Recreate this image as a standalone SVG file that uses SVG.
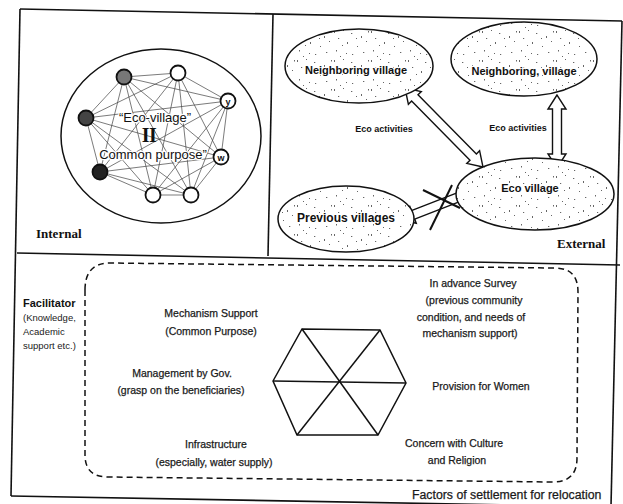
<svg xmlns="http://www.w3.org/2000/svg" width="623" height="504" viewBox="0 0 623 504">
<defs>
<pattern id="speck" width="37" height="29" patternUnits="userSpaceOnUse">
<rect width="37" height="29" fill="#fff"/>
<g fill="#666">
<rect x="1" y="2" width="1" height="2"/><rect x="5" y="9" width="1.2" height="1"/><rect x="10" y="1" width="1" height="1"/>
<rect x="14" y="13" width="1" height="2"/><rect x="18" y="4" width="1.3" height="1"/><rect x="24" y="17" width="1" height="1"/>
<rect x="3" y="21" width="1" height="1.5"/><rect x="9" y="16" width="1" height="1"/><rect x="19" y="25" width="1.2" height="1"/>
<rect x="28" y="7" width="1" height="2"/><rect x="33" y="12" width="1" height="1"/><rect x="7" y="27" width="1" height="1"/>
<rect x="30" y="23" width="1.3" height="1"/><rect x="23" y="9" width="1" height="1"/><rect x="35" y="2" width="1" height="1.5"/>
<rect x="13" y="24" width="1" height="1"/>
</g>
</pattern>
</defs>
<style>
.frame{fill:none;stroke:#111;stroke-width:1.6}
.edge{stroke:#222;stroke-width:0.7;opacity:0.85}
.node{stroke:#111;stroke-width:1.8}
.ell{fill:url(#speck);stroke:#111;stroke-width:1.5}
.arrow{fill:#fff;stroke:#111;stroke-width:1.4;stroke-linejoin:miter}
.ser{font-family:"Liberation Serif",serif;font-weight:bold;fill:#111}
.lbl{font-family:"Liberation Sans",Arial,sans-serif;font-weight:bold;fill:#111}
.txt{font-family:"Liberation Sans",Arial,sans-serif;font-size:10.5px;fill:#1a1a1a;stroke:#1a1a1a;stroke-width:0.25;text-anchor:middle}
.halo{paint-order:stroke;stroke:#fff;stroke-width:2.5px;stroke-linejoin:round}
</style>
<rect width="623" height="504" fill="#fff"/>

<g id="frame" class="frame">
<line x1="20" y1="9" x2="622" y2="21"/>
<line x1="20" y1="9" x2="11" y2="496"/>
<line x1="11" y1="496" x2="623" y2="507"/>
<line x1="622" y1="21" x2="611" y2="506"/>
<line x1="273" y1="14" x2="268" y2="256"/>
<line x1="17" y1="253" x2="620" y2="265"/>
</g>

<g id="internal">
<ellipse cx="161" cy="136" rx="100" ry="87" fill="none" stroke="#111" stroke-width="1.5"/>
<g id="network-edges" class="edge">
<line x1="124" y1="77" x2="178" y2="73"/><line x1="124" y1="77" x2="228" y2="101"/><line x1="124" y1="77" x2="86" y2="118"/><line x1="124" y1="77" x2="221" y2="157"/><line x1="124" y1="77" x2="100" y2="172"/><line x1="124" y1="77" x2="153" y2="195"/><line x1="124" y1="77" x2="191" y2="195"/>
<line x1="178" y1="73" x2="228" y2="101"/><line x1="178" y1="73" x2="86" y2="118"/><line x1="178" y1="73" x2="221" y2="157"/><line x1="178" y1="73" x2="100" y2="172"/><line x1="178" y1="73" x2="153" y2="195"/><line x1="178" y1="73" x2="191" y2="195"/>
<line x1="228" y1="101" x2="86" y2="118"/><line x1="228" y1="101" x2="221" y2="157"/><line x1="228" y1="101" x2="100" y2="172"/><line x1="228" y1="101" x2="153" y2="195"/><line x1="228" y1="101" x2="191" y2="195"/>
<line x1="86" y1="118" x2="221" y2="157"/><line x1="86" y1="118" x2="100" y2="172"/><line x1="86" y1="118" x2="153" y2="195"/><line x1="86" y1="118" x2="191" y2="195"/>
<line x1="221" y1="157" x2="100" y2="172"/><line x1="221" y1="157" x2="153" y2="195"/><line x1="221" y1="157" x2="191" y2="195"/>
<line x1="100" y1="172" x2="153" y2="195"/><line x1="100" y1="172" x2="191" y2="195"/>
<line x1="153" y1="195" x2="191" y2="195"/>
</g>
<g id="n1"><circle class="node" cx="124" cy="77" r="7.5" fill="#777"/></g>
<g id="n2"><circle class="node" cx="178" cy="73" r="7.5" fill="#fff"/></g>
<g id="n3"><circle class="node" cx="228" cy="101" r="7.5" fill="#fff"/><text x="228" y="104.5" class="lbl" font-size="9" text-anchor="middle">y</text></g>
<g id="n4"><circle class="node" cx="86" cy="118" r="7.5" fill="#444"/></g>
<g id="n5"><circle class="node" cx="221" cy="157" r="7.5" fill="#fff" stroke-width="2.4"/><text x="221" y="160.5" class="lbl" font-size="9" text-anchor="middle">w</text></g>
<g id="n6"><circle class="node" cx="100" cy="172" r="7.5" fill="#222"/></g>
<g id="n7"><circle class="node" cx="153" cy="195" r="7.5" fill="#fff" stroke-width="2.4"/></g>
<g id="n8"><circle class="node" cx="191" cy="195" r="7.5" fill="#fff"/></g>
<text x="155" y="121.5" class="halo" font-family="Liberation Sans,Arial,sans-serif" font-size="13" text-anchor="middle" fill="#111">“Eco-village”</text>
<text x="149" y="142" class="ser" font-size="20" letter-spacing="-0.5" text-anchor="middle">II</text>
<text x="153" y="158.5" class="halo" font-family="Liberation Sans,Arial,sans-serif" font-size="13" text-anchor="middle" fill="#111">Common purpose”</text>
<text x="36" y="238" class="ser" font-size="13">Internal</text>
</g>

<g id="connectors">
<path class="arrow" d="M405,88 L408.4,104.3 L411.6,101.1 L470,160.2 L466.8,163.4 L483,167 L479.6,150.7 L476.4,153.9 L418,94.8 L421.3,91.6 Z"/>
<path class="arrow" d="M557,95 L548,109 L552.5,109 L552.5,154 L548,154 L557,168 L566,154 L561.5,154 L561.5,109 L566,109 Z"/>
<path class="arrow" d="M400,220 L416.3,223.3 L414.7,219.1 L470.6,197.3 L472.2,201.5 L482,188 L465.7,184.7 L467.3,188.9 L411.4,210.7 L409.8,206.5 Z"/>
<g stroke="#111" stroke-width="2"><line x1="423" y1="190" x2="460" y2="208"/><line x1="452" y1="185" x2="430" y2="230"/></g>
</g>

<g id="neighbor-left"><ellipse class="ell" cx="359" cy="66" rx="74" ry="37"/><text x="356" y="74" class="lbl halo" font-size="11" text-anchor="middle">Neighboring village</text></g>
<g id="neighbor-right"><ellipse class="ell" cx="524" cy="59" rx="73" ry="37"/><text x="524" y="75" class="lbl halo" font-size="11" text-anchor="middle">Neighboring, village</text></g>
<g id="eco-village"><ellipse class="ell" cx="535" cy="194" rx="79" ry="36"/><text x="530" y="192" class="lbl halo" font-size="11" text-anchor="middle">Eco village</text></g>
<g id="previous-villages"><ellipse class="ell" cx="346" cy="219" rx="68" ry="33"/><text x="346" y="222" class="lbl halo" font-size="12" text-anchor="middle">Previous villages</text></g>
<text x="384" y="132" class="lbl" font-size="9" text-anchor="middle">Eco activities</text>
<text x="518" y="131" class="lbl" font-size="9" text-anchor="middle">Eco activities</text>
<text x="557" y="248" class="ser" font-size="13">External</text>

<g id="factors">
<path d="M85,290 Q85,263 110,263 L555,268 Q578,268 578,292 L577,458 Q577,482 553,482 L108,477 Q85,477 85,455 Z" fill="none" stroke="#111" stroke-width="1.5" stroke-dasharray="6 4"/>
<g fill="none" stroke="#111" stroke-width="1.5">
<polygon points="273,381 302,329 380,330 406,383 378,435 297,435"/>
<line x1="273" y1="381" x2="406" y2="383"/><line x1="302" y1="329" x2="378" y2="435"/><line x1="380" y1="330" x2="297" y2="435"/>
</g>
<text x="23" y="307" class="lbl" font-size="11">Facilitator</text>
<text x="23" y="321" font-family="Liberation Sans,Arial,sans-serif" font-size="9.5" fill="#1a1a1a">(Knowledge,</text>
<text x="23" y="335" font-family="Liberation Sans,Arial,sans-serif" font-size="9.5" fill="#1a1a1a">Academic</text>
<text x="23" y="349" font-family="Liberation Sans,Arial,sans-serif" font-size="9.5" fill="#1a1a1a">support etc.)</text>
<text x="211" y="317" class="txt">Mechanism Support</text>
<text x="211" y="335" class="txt">(Common Purpose)</text>
<text x="182" y="377" class="txt">Management by Gov.</text>
<text x="181" y="394" class="txt">(grasp on the beneficiaries)</text>
<text x="216" y="448" class="txt">Infrastructure</text>
<text x="214" y="466" class="txt">(especially, water supply)</text>
<text x="473" y="287" class="txt">In advance Survey</text>
<text x="474" y="304" class="txt">(previous community</text>
<text x="471" y="321" class="txt">condition, and needs of</text>
<text x="470" y="337" class="txt">mechanism support)</text>
<text x="481" y="390" class="txt">Provision for Women</text>
<text x="454" y="447" class="txt">Concern with Culture</text>
<text x="457" y="464" class="txt">and Religion</text>
<text x="412" y="499" font-family="Liberation Sans,Arial,sans-serif" font-size="12.3" fill="#1a1a1a" stroke="#1a1a1a" stroke-width="0.25">Factors of settlement for relocation</text>
</g>
</svg>
